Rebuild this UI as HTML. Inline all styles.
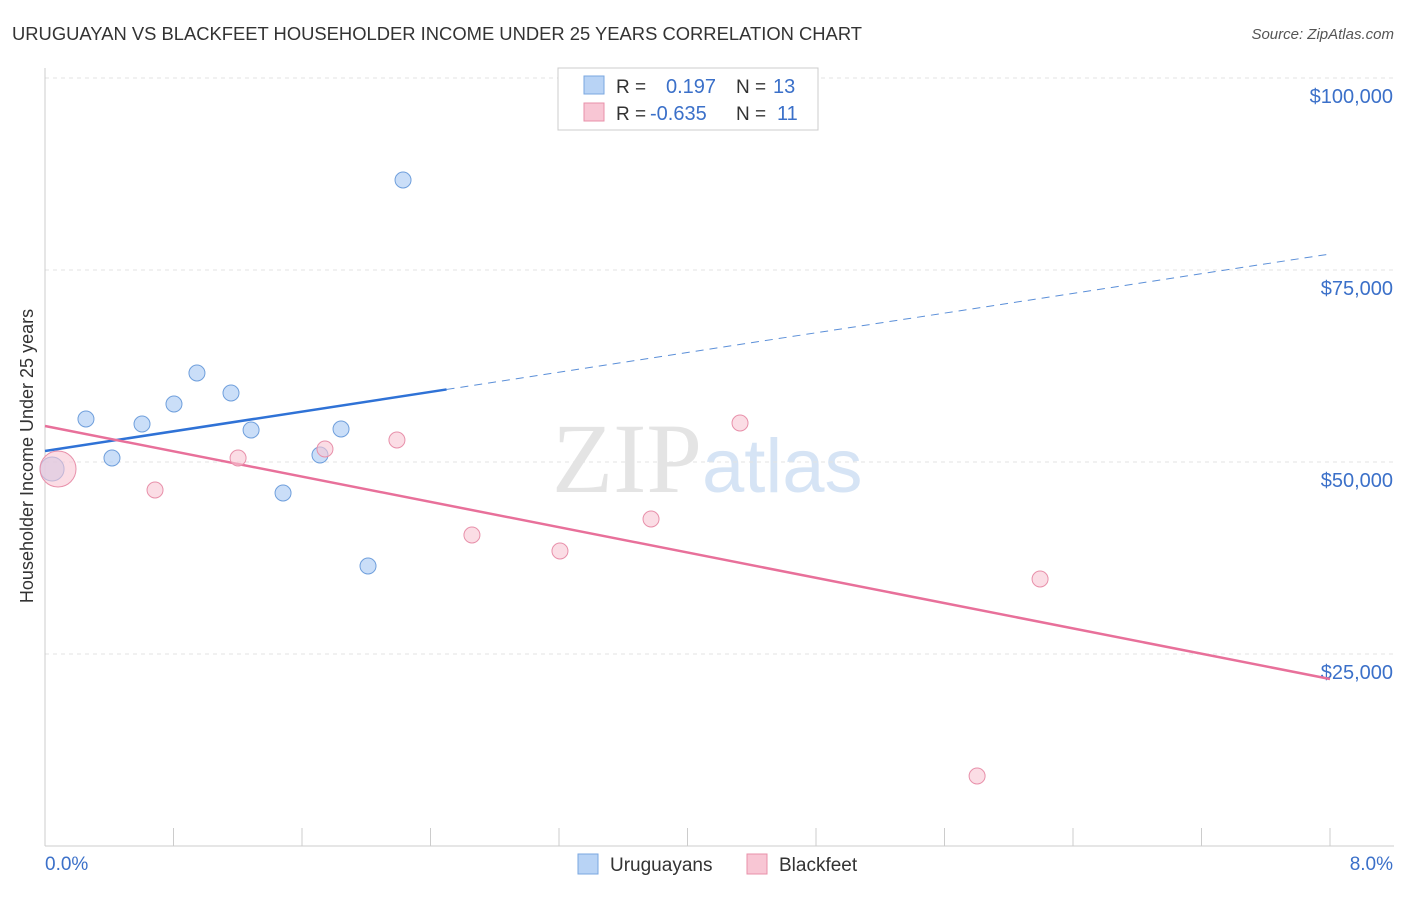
<!DOCTYPE html>
<html><head><meta charset="utf-8"><style>
body{margin:0;background:#fff;font-family:"Liberation Sans",sans-serif}
</style></head><body>
<svg id="chart" width="1406" height="892" xmlns="http://www.w3.org/2000/svg" font-family="Liberation Sans, sans-serif">
<text x="12" y="40" font-size="18" fill="#333" textLength="850" lengthAdjust="spacingAndGlyphs">URUGUAYAN VS BLACKFEET HOUSEHOLDER INCOME UNDER 25 YEARS CORRELATION CHART</text>
<text x="1394" y="39" font-size="15" fill="#555" font-style="italic" text-anchor="end">Source: ZipAtlas.com</text>
<text x="552" y="492" font-size="100" fill="#e4e4e4" font-family="Liberation Serif, serif">ZIP<tspan fill="#d6e4f5" font-family="Liberation Sans, sans-serif" font-size="76">atlas</tspan></text>
<text transform="translate(33,456) rotate(-90)" font-size="18" fill="#333" text-anchor="middle">Householder Income Under 25 years</text>
<g id="grid"></g><g id="axes"></g><g id="trends"></g><g id="points"></g>
<g>
<rect x="558" y="68" width="260" height="62" fill="#fff" stroke="#ccc"/>
<rect x="584" y="76" width="20" height="18" fill="#b8d3f5" stroke="#7aa7e0"/>
<text x="616" y="93" font-size="19" fill="#333">R =</text><text x="666" y="93" font-size="20" fill="#3b70c9">0.197</text>
<text x="736" y="93" font-size="19" fill="#333">N =</text><text x="773" y="93" font-size="20" fill="#3b70c9">13</text>
<rect x="584" y="103" width="20" height="18" fill="#f8c6d4" stroke="#e890aa"/>
<text x="616" y="120" font-size="19" fill="#333">R =</text><text x="650" y="120" font-size="20" fill="#3b70c9">-0.635</text>
<text x="736" y="120" font-size="19" fill="#333">N =</text><text x="777" y="120" font-size="20" fill="#3b70c9">11</text>
</g>
<g><rect x="578" y="854" width="20" height="20" fill="#b8d3f5" stroke="#7aa7e0"/><text x="610" y="871" font-size="19" fill="#333">Uruguayans</text></g>
<g><rect x="747" y="854" width="20" height="20" fill="#f8c6d4" stroke="#e890aa"/><text x="779" y="871" font-size="19" fill="#333">Blackfeet</text></g>
</svg>
<script>
const yTicks=[25000,50000,75000,100000];
const yTickLabels=["$25,000","$50,000","$75,000","$100,000"];
const xTickLabels=["0.0%","8.0%"];
const blueX=[0.044,0.255,0.417,0.604,0.803,0.946,1.158,1.283,1.482,1.712,1.843,2.011,2.229];
const blueY=[49089,55599,50521,54948,57552,61589,58984,54167,45964,50911,54297,36458,86719];
const pinkX=[0.081,0.685,1.202,1.743,2.191,2.658,3.206,3.773,4.327,5.803,6.195];
const pinkY=[49089,46354,50521,51693,52865,40495,38411,42578,55078,9115,34766];
const blueTrend=[51432,77083];
const blueSolidEnd=2.5;
const pinkTrend=[54688,21745];
const NS="http://www.w3.org/2000/svg";
const X=v=>45+v/8*1285, Y=v=>846-v/100000*768;
function mk(p,t,a){const e=document.createElementNS(NS,t);for(const k in a)e.setAttribute(k,a[k]);document.getElementById(p).appendChild(e);return e;}
yTicks.forEach((t,i)=>{
 const g=mk('grid','line',{x1:45,x2:1394,y1:Y(t),y2:Y(t),stroke:'#e3e3e3','stroke-dasharray':'4,4'});
 
 
 const l=mk('grid','text',{x:1393,y:Y(t)+25,'font-size':20,fill:'#3b70c9','text-anchor':'end'});
 l.textContent=yTickLabels[i];
 
 
});
let ax=mk('axes','line',{x1:45,x2:1394,y1:846,y2:846,stroke:'#ccc'});


ax=mk('axes','line',{x1:45,x2:45,y1:68,y2:846,stroke:'#ccc'});


for(let i=1;i<=10;i++){const t=mk('axes','line',{x1:X(i*0.8),x2:X(i*0.8),y1:828,y2:846,stroke:'#ccc'});
 
 }
[[0,'start',45],[8,'end',1393]].forEach((d,i)=>{const t=mk('axes','text',{x:d[2],y:870,'font-size':19,fill:'#3b70c9','text-anchor':d[1]});t.textContent=xTickLabels[i];
 
 });
const by=x=>blueTrend[0]+(blueTrend[1]-blueTrend[0])*x/8;
let l=mk('trends','line',{x1:X(0),y1:Y(by(0)),x2:X(blueSolidEnd),y2:Y(by(blueSolidEnd)),stroke:'#2f72d6','stroke-width':2.5});


l=mk('trends','line',{x1:X(blueSolidEnd),y1:Y(by(blueSolidEnd)),x2:X(8),y2:Y(by(8)),stroke:'#5b8fd8','stroke-width':1,'stroke-dasharray':'8,6'});


l=mk('trends','line',{x1:X(0),y1:Y(pinkTrend[0]),x2:X(8),y2:Y(pinkTrend[1]),stroke:'#e8709a','stroke-width':2.5});


blueX.forEach((x,i)=>{const c=mk('points','circle',{cx:X(x),cy:Y(blueY[i]),r:i==0?12:8,fill:'#b8d3f5','fill-opacity':0.75,stroke:'#6f9fdc','stroke-width':1});
 
 });
pinkX.forEach((x,i)=>{const c=mk('points','circle',{cx:X(x),cy:Y(pinkY[i]),r:i==0?18:8,fill:'#f8c6d4','fill-opacity':0.6,stroke:'#e890aa','stroke-width':1});
 
 });
</script>
</body></html>
